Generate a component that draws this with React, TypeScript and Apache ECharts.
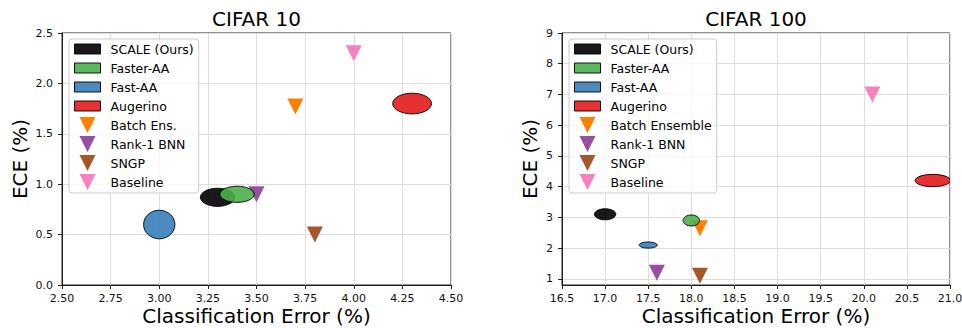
import { useEffect, useRef } from 'react';
import * as echarts from 'echarts';

// ---------- data ----------
const ellipseMethods = ['SCALE (Ours)', 'Faster-AA', 'Fast-AA', 'Augerino'];
const ellipseColors = ['#000000', '#4daf4a', '#377eb8', '#e41a1c'];

const c10EllipseX = [3.3, 3.4, 3.0, 4.3];
const c10EllipseY = [0.87, 0.9, 0.6, 1.8];
const c10EllipseW = [0.177, 0.177, 0.161, 0.2];
const c10EllipseH = [0.18, 0.16, 0.284, 0.205];

const c100EllipseX = [17.0, 18.0, 17.5, 20.8];
const c100EllipseY = [3.1, 2.9, 2.1, 4.2];
const c100EllipseW = [0.248, 0.19, 0.21, 0.41];
const c100EllipseH = [0.36, 0.36, 0.2, 0.4];

const c10TriMethods = ['Batch Ens.', 'Rank-1 BNN', 'SNGP', 'Baseline'];
const c100TriMethods = ['Batch Ensemble', 'Rank-1 BNN', 'SNGP', 'Baseline'];
const triColors = ['#ff7f00', '#984ea3', '#a65628', '#f781bf'];

const c10TriX = [3.7, 3.5, 3.8, 4.0];
const c10TriY = [1.77, 0.9, 0.5, 2.3];
const c100TriX = [18.1, 17.6, 18.1, 20.1];
const c100TriY = [2.65, 1.2, 1.1, 7.0];

const c100YTicks = [1, 2, 3, 4, 5, 6, 7, 8, 9];

const titles = ['CIFAR 10', 'CIFAR 100'];
const xName = 'Classification Error (%)';
const yName = 'ECE (%)';

// ---------- styling ----------
const FONT = 'DejaVu Sans';
const TRI = 'path://M0,0 L2,0 L1,2 Z';
const RECT = 'path://M0,0 L26,0 L26,10 L0,10 Z';

function ellipseSeries(name: string, color: string, idx: number, x: number, y: number, w: number, h: number) {
  return {
    type: 'custom',
    name,
    xAxisIndex: idx,
    yAxisIndex: idx,
    z: 3,
    clip: true,
    itemStyle: { color, borderColor: '#000', borderWidth: 1, opacity: 0.9 },
    data: [[x, y, w, h]],
    renderItem: (params: any, api: any) => {
      const c = api.coord([api.value(0), api.value(1)]);
      const s = api.size([api.value(2), api.value(3)]);
      return {
        type: 'ellipse',
        shape: { cx: c[0], cy: c[1], rx: s[0] / 2, ry: s[1] / 2 },
        style: { fill: color, stroke: '#000', lineWidth: 1, opacity: 0.9 },
      };
    },
  };
}

function triSeries(name: string, color: string, idx: number, x: number, y: number) {
  return {
    type: 'scatter',
    name,
    xAxisIndex: idx,
    yAxisIndex: idx,
    z: 2,
    symbol: TRI,
    symbolSize: 16,
    itemStyle: { color, opacity: 1 },
    data: [[x, y]],
  };
}

function legendFor(triNames: string[], left: number) {
  return {
    orient: 'vertical',
    left,
    top: 39,
    padding: [2, 5, 3, 5],
    itemWidth: 26,
    itemHeight: 16,
    itemGap: 3,
    selectedMode: false,
    backgroundColor: 'rgba(255,255,255,0.8)',
    borderColor: '#cccccc',
    borderWidth: 1,
    borderRadius: 3,
    textStyle: { fontFamily: FONT, fontSize: 12.5, lineHeight: 16, color: '#000', padding: [0, 0, 0, 5] },
    data: [
      ...ellipseMethods.map((n, i) => ({
        name: n,
        icon: RECT,
        itemStyle: { color: ellipseColors[i], borderColor: '#000', borderWidth: 1, opacity: 0.9 },
      })),
      ...triNames.map((n, i) => ({ name: n, icon: TRI, itemStyle: { color: triColors[i] } })),
    ],
  };
}

const axisCommon = {
  type: 'value',
  axisLine: { show: true, onZero: false, lineStyle: { color: '#222', width: 1 } },
  axisTick: { show: true, length: 4, lineStyle: { color: '#222' } },
  splitLine: { show: true, lineStyle: { color: '#dddddd', width: 1 } },
  nameLocation: 'middle',
  nameMoveOverlap: false,
  nameTextStyle: { fontFamily: FONT, fontSize: 20, lineHeight: 20, color: '#000' },
};

const labelCommon = { fontFamily: FONT, fontSize: 11, color: '#111', showMinLabel: true, showMaxLabel: true };

const gridCommon = {
  top: 33,
  height: 252,
  show: true,
  borderColor: '#222',
  borderWidth: 1,
  backgroundColor: 'transparent',
  containLabel: false,
  outerBoundsMode: 'none',
};

const option: any = {
  animation: false,
  backgroundColor: '#ffffff',
  grid: [
    { ...gridCommon, left: 62, width: 389 },
    { ...gridCommon, left: 562, width: 388 },
  ],
  xAxis: [
    {
      ...axisCommon,
      gridIndex: 0,
      min: 2.5,
      max: 4.5,
      interval: 0.25,
      name: xName,
      nameGap: 21,
      axisLabel: { ...labelCommon, interval: 0, margin: 8, formatter: (v: number) => v.toFixed(2) },
    },
    {
      ...axisCommon,
      gridIndex: 1,
      min: 16.5,
      max: 21.0,
      interval: 0.5,
      name: xName,
      nameGap: 21,
      axisLabel: { ...labelCommon, interval: 0, margin: 8, formatter: (v: number) => v.toFixed(1) },
    },
  ],
  yAxis: [
    {
      ...axisCommon,
      gridIndex: 0,
      min: 0,
      max: 2.5,
      interval: 0.5,
      name: yName,
      nameGap: 32,
      axisLabel: { ...labelCommon, margin: 9, formatter: (v: number) => v.toFixed(1) },
    },
    {
      ...axisCommon,
      gridIndex: 1,
      min: 0.8,
      max: 9,
      splitNumber: 8,
      name: yName,
      nameGap: 22,
      axisTick: { ...axisCommon.axisTick, customValues: c100YTicks },
      axisLabel: { ...labelCommon, margin: 9, customValues: c100YTicks, formatter: (v: number) => String(Math.round(v)) },
    },
  ],
  legend: [legendFor(c10TriMethods, 69), legendFor(c100TriMethods, 569)],
  graphic: [
    { type: 'text', x: 256.5, y: 19, style: { text: titles[0], fill: '#000', font: `20px "${FONT}"`, textAlign: 'center', textVerticalAlign: 'middle' } },
    { type: 'text', x: 756, y: 19, style: { text: titles[1], fill: '#000', font: `20px "${FONT}"`, textAlign: 'center', textVerticalAlign: 'middle' } },
  ],
  series: [
    ...c10TriMethods.map((n, i) => triSeries(n, triColors[i], 0, c10TriX[i], c10TriY[i])),
    ...c100TriMethods.map((n, i) => triSeries(n, triColors[i], 1, c100TriX[i], c100TriY[i])),
    ...ellipseMethods.map((n, i) => ellipseSeries(n, ellipseColors[i], 0, c10EllipseX[i], c10EllipseY[i], c10EllipseW[i], c10EllipseH[i])),
    ...ellipseMethods.map((n, i) => ellipseSeries(n, ellipseColors[i], 1, c100EllipseX[i], c100EllipseY[i], c100EllipseW[i], c100EllipseH[i])),
  ],
};

export default function App() {
  const ref = useRef<HTMLDivElement>(null);
  useEffect(() => {
    const chart = echarts.init(ref.current!, null, { renderer: 'svg' });
    chart.setOption(option);
    return () => chart.dispose();
  }, []);
  return <div ref={ref} style={{ position: 'absolute', left: 0, top: 0, width: 962, height: 328 }} />;
}
